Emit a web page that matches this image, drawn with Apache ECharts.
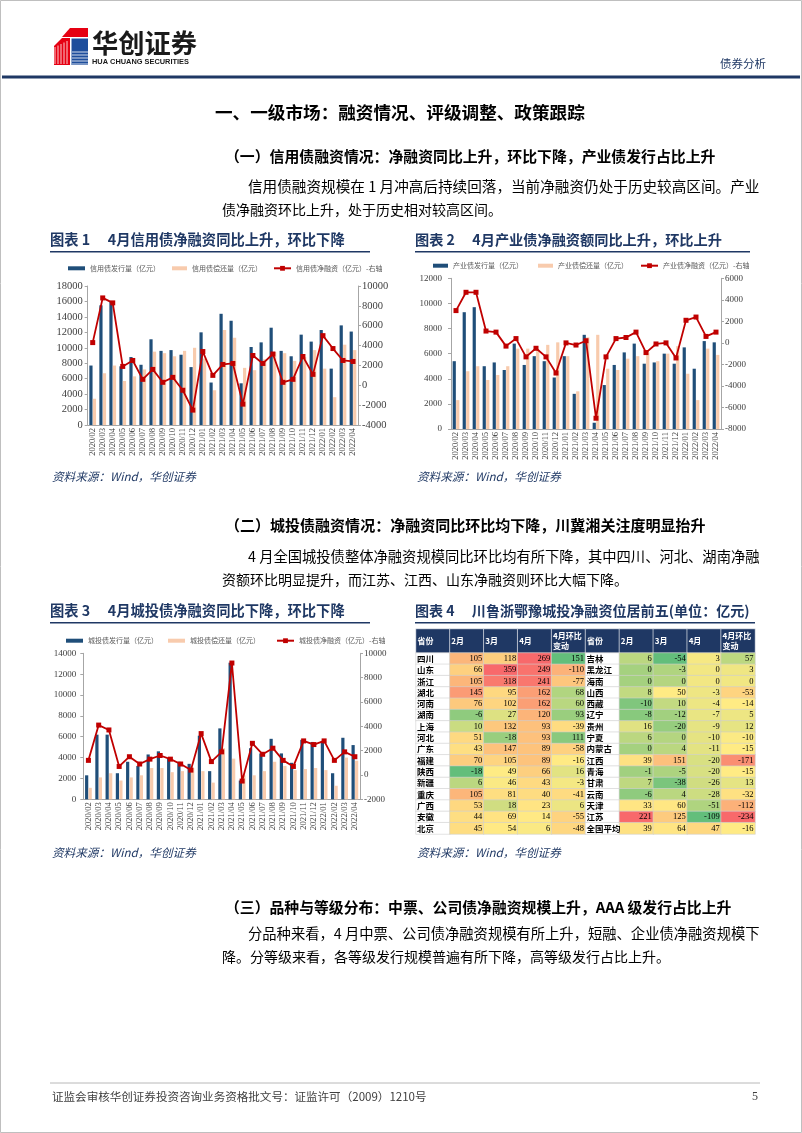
<!DOCTYPE html>
<html><head><meta charset="utf-8">
<script src="https://cdn.jsdelivr.net/npm/echarts@6/dist/echarts.min.js"></script>
<style>html,body{margin:0;padding:0;background:#fff}#c{width:802px;height:1133px}</style>
</head><body><div id="c"></div>
<script>
// ---------- data ----------
const months = ['2020/02','2020/03','2020/04','2020/05','2020/06','2020/07','2020/08','2020/09','2020/10','2020/11','2020/12',
  '2021/01','2021/02','2021/03','2021/04','2021/05','2021/06','2021/07','2021/08','2021/09','2021/10','2021/11','2021/12',
  '2022/01','2022/02','2022/03','2022/04'];

const creditIssue = [7700,15500,16000,7600,8800,7800,11100,9600,9700,9100,7500, 12000,5500,14400,13500,5400,10100,10700,12600,9600,8900,11700,10800, 12300,7300,12900,12100];
const creditRepay = [3400,6700,7700,5700,6300,7200,9500,9300,8900,9600,10000, 8600,4500,12300,11300,7400,7100,8500,9450,9300,8300,8800,9700, 7300,3600,10400,9700];
const creditNet   = [4300,8800,8300,1900,2500,600,1600,300,800,-500,-2500, 3400,1000,2100,2200,-1900,3000,2200,3150,300,600,2900,1100, 5000,3700,2500,2400];

const indIssue = [5400,9300,9700,5000,5300,4700,6800,5100,5800,5400,4100, 5800,2800,7500,500,3500,5100,6100,6800,5200,5300,6000,5200, 6500,4800,7000,6900];
const indRepay = [2300,4600,5000,3900,4300,5000,6400,6400,6300,6700,6900, 5800,3000,7300,7500,4800,4700,5600,5800,6100,5400,6000,6600, 4400,2300,6400,5900];
const indNet   = [3000,4700,4700,1100,1000,-300,400,-1300,-500,-1300,-2800, 0,-200,200,-7000,-1300,400,500,1000,-900,-100,0,-1400, 2100,2400,600,1000];

const cityIssue = [2300,6200,6200,2500,3600,3200,4300,4600,3900,3600,3400, 6100,2700,6800,13100,1800,4900,4400,5800,4400,3500,5700,5500, 5600,2500,5900,5200];
const cityRepay = [1100,2100,2500,1800,2100,2300,3000,3000,2600,2700,3000, 2700,1600,4900,3900,2300,2300,2700,3600,3200,2800,2900,3000, 2800,1300,4000,3700];
const cityNet   = [1200,4100,3700,700,1500,900,1300,1600,1300,900,400, 3400,1100,1900,9200,-500,2600,1700,2200,1200,700,2800,2500, 2800,1200,1900,1500];

const tableCols = ['省份','2月','3月','4月','4月环比\n变动','省份','2月','3月','4月','4月环比\n变动'];
const leftProv = ['四川','山东','浙江','湖北','河南','湖南','上海','河北','广东','福建','陕西','新疆','重庆','广西','安徽','北京'];
const leftFeb  = [105,66,105,145,76,-6,10,51,43,70,-18,6,105,53,44,45];
const leftMar  = [118,359,318,95,102,27,132,-18,147,105,49,46,81,18,69,54];
const leftApr  = [269,249,241,162,162,120,93,93,89,89,66,43,40,23,14,6];
const leftChg  = [151,-110,-77,68,60,93,-39,111,-58,-16,16,-3,-41,6,-55,-48];
const rightProv = ['吉林','黑龙江','海南','山西','西藏','辽宁','贵州','宁夏','内蒙古','江西','青海','甘肃','云南','天津','江苏','全国平均'];
const rightFeb  = [6,0,0,8,-10,-8,16,6,0,39,-1,7,-6,33,221,39];
const rightMar  = [-54,-3,0,50,10,-12,-20,0,4,151,-5,-38,4,60,125,64];
const rightApr  = [3,0,0,-3,-4,-7,-9,-10,-11,-20,-20,-26,-28,-51,-109,47];
const rightChg  = [57,3,0,-53,-14,5,12,-10,-15,-171,-15,13,-32,-112,-234,-16];

// ---------- helpers ----------
const CJK = '"Noto Sans CJK SC"';
const SERIF = '"Liberation Serif"';
const NAVY = '#1F3864';
const BLUE = '#1F4E79', PEACH = '#F8CBAD', RED = '#C00000';
const mctx = document.createElement('canvas').getContext('2d');
function fitSize(text, width, weight) {
  mctx.font = (weight || 'normal') + ' 100px ' + CJK;
  return 100 * width / mctx.measureText(text).width;
}
function txt(text, x, y, o) {
  o = o || {};
  let fs = o.fs || 14;
  if (o.w) fs = fitSize(text, o.w, o.bold ? 'bold' : 'normal');
  return {type:'text', silent:true, z:10, style:{text, x, y, fontSize:fs, fontFamily:o.family || CJK,
    fontWeight:o.bold ? 'bold' : 'normal', fontStyle:o.italic ? 'italic' : 'normal',
    fill:o.color || '#000', textAlign:o.align || 'left', textVerticalAlign:'middle'}};
}
function rect(x, y, w, h, fill) { return {type:'rect', silent:true, shape:{x, y, width:w, height:h}, style:{fill}}; }

function catAxis(gi, fs) {
  return {type:'category', gridIndex:gi, data:months, boundaryGap:true,
    axisLine:{show:true, onZero:false, lineStyle:{color:'#A6A6A6', width:1}}, axisTick:{show:false},
    axisLabel:{interval:0, rotate:90, fontFamily:SERIF, fontSize:fs, color:'#404040', margin:3},
    splitLine:{show:false}};
}
function valAxis(gi, pos, min, max, fs, margin) {
  return {type:'value', gridIndex:gi, position:pos, min, max, interval:2000,
    axisLine:{show:true, lineStyle:{color:'#A6A6A6'}}, axisTick:{show:true, length:3, lineStyle:{color:'#A6A6A6'}},
    axisLabel:{fontFamily:SERIF, fontSize:fs, color:'#404040', margin, formatter:v => String(v)},
    splitLine:{show:false}};
}
function barS(name, data, xi, yi, color) {
  return {type:'bar', name, data, xAxisIndex:xi, yAxisIndex:yi, barWidth:3.2, barGap:'10%',
    itemStyle:{color}, emphasis:{disabled:true}, animation:false};
}
function lineS(name, data, xi, yi) {
  return {type:'line', name, data, xAxisIndex:xi, yAxisIndex:yi, symbol:'rect', symbolSize:5,
    lineStyle:{color:RED, width:1.8}, itemStyle:{color:RED}, z:5, emphasis:{disabled:true}, animation:false};
}
function leg(name, left, cy, iw, ih, icon) {
  const l = {data:[name], left, top:cy - 5, padding:0, itemWidth:iw, itemHeight:ih, itemGap:0, selectedMode:false,
    textStyle:{fontSize:7, fontFamily:CJK, color:'#595959', lineHeight:10}};
  if (icon) l.icon = icon;
  return l;
}

// conditional color scale (Excel 3-color: green - yellow - red)
const C_RED = [248,105,107], C_YEL = [255,235,132], C_GRN = [99,190,123];
function mix(a, b, t) { return 'rgb(' + a.map((v, i) => Math.round(v + (b[i] - v) * t)).join(',') + ')'; }
function makeScale(vals, invert) {
  const s = vals.slice().sort((a, b) => a - b);
  const n = s.length, min = s[0], max = s[n - 1];
  const mid = n % 2 ? s[(n - 1) / 2] : (s[n / 2 - 1] + s[n / 2]) / 2;
  const lo = invert ? C_RED : C_GRN, hi = invert ? C_GRN : C_RED;
  return v => v <= mid ? mix(lo, C_YEL, mid === min ? 1 : (v - min) / (mid - min))
                       : mix(C_YEL, hi, (v - mid) / (max - mid));
}
const leftCols = [leftFeb, leftMar, leftApr, leftChg];
const rightCols = [rightFeb, rightMar, rightApr, rightChg];
const scales = leftCols.map((c, i) => makeScale(c.concat(rightCols[i]), i === 3));

const cellData = [];
function addHalf(prov, cols, c0) {
  prov.forEach((p, r) => {
    cellData.push({name:p, value:[c0, r, 0], itemStyle:{color:'#fff'},
      label:{position:'insideLeft', distance:1.5, fontFamily:CJK, fontWeight:'bold', fontSize:8.5, color:'#000'}});
    cols.forEach((col, ci) => {
      const v = col[r];
      cellData.push({name:String(v), value:[c0 + 1 + ci, r, v], itemStyle:{color:scales[ci](v)}});
    });
  });
}
addHalf(leftProv, leftCols, 0);
addHalf(rightProv, rightCols, 5);
const headData = tableCols.map((h, i) => ({name:h, value:[i, 0, 0]}));

// ---------- page graphics ----------
const HEAD = '#000';
const g = [];
g.push({type:'rect', silent:true, shape:{x:0.5, y:0.5, width:801, height:1132}, style:{fill:'none', stroke:'#BFBFBF', lineWidth:1}});
// logo
g.push({type:'polygon', silent:true, shape:{points:[[62,37],[70,28],[88,28],[88,37]]}, style:{fill:'#E60012'}});
g.push({type:'polygon', silent:true, shape:{points:[[54,46],[62,38],[70,38],[70,65],[54,65]]}, style:{fill:'#E60012'}});
g.push({type:'rect', silent:true, shape:{x:71.5, y:38.5, width:16.5, height:26.5}, style:{fill:'#1E4E9C'}});
for (let i = 0; i < 5; i++) {
  g.push({type:'line', silent:true, shape:{x1:55 + i * 3, y1:64, x2:55 + i * 3, y2:47 - i * 1.5}, style:{stroke:'#fff', lineWidth:0.8}});
  g.push({type:'line', silent:true, shape:{x1:72, y1:52 + i * 3, x2:88, y2:52 + i * 3}, style:{stroke:'#fff', lineWidth:0.8}});
}
g.push(txt('华创证券', 92, 43, {w:105, bold:true, color:'#1a1a1a'}));
g.push(txt('HUA CHUANG SECURITIES', 92, 62, {fs:7.4, bold:true, family:'"Liberation Sans"', color:'#1a1a1a'}));
g.push(txt('债券分析', 720, 64, {fs:11.5, color:NAVY}));
g.push(rect(2, 75.5, 798, 3, NAVY));

// headings and paragraphs
g.push(txt('一、一级市场：融资情况、评级调整、政策跟踪', 215, 112, {w:370, bold:true, color:HEAD}));
g.push(txt('（一）信用债融资情况：净融资同比上升，环比下降，产业债发行占比上升', 225, 156, {w:491, bold:true, color:HEAD}));
g.push(txt('信用债融资规模在 1 月冲高后持续回落，当前净融资仍处于历史较高区间。产业', 248, 186, {w:512}));
g.push(txt('债净融资环比上升，处于历史相对较高区间。', 222, 210, {fs:14}));

g.push(txt('图表 1\u3000 4月信用债净融资同比上升，环比下降', 50, 240, {w:295, bold:true, color:NAVY}));
g.push(txt('图表 2\u3000 4月产业债净融资额同比上升，环比上升', 415, 240, {w:307, bold:true, color:NAVY}));
g.push(rect(50, 251, 320, 1.6, NAVY));
g.push(rect(415, 251, 335, 1.6, NAVY));
g.push(txt('资料来源：Wind，华创证券', 52, 477, {w:144, italic:true, color:NAVY}));
g.push(txt('资料来源：Wind，华创证券', 417, 477, {w:144, italic:true, color:NAVY}));

g.push(txt('（二）城投债融资情况：净融资同比环比均下降，川冀湘关注度明显抬升', 225, 525, {w:481, bold:true, color:HEAD}));
g.push(txt('4 月全国城投债整体净融资规模同比环比均有所下降，其中四川、河北、湖南净融', 248, 557, {w:512}));
g.push(txt('资额环比明显提升，而江苏、江西、山东净融资则环比大幅下降。', 222, 580, {fs:14}));

g.push(txt('图表 3\u3000 4月城投债净融资同比下降，环比下降', 50, 611, {w:295, bold:true, color:NAVY}));
g.push(txt('图表 4\u3000 川鲁浙鄂豫城投净融资位居前五(单位：亿元)', 415, 611, {w:335, bold:true, color:NAVY}));
g.push(rect(50, 622, 320, 1.6, NAVY));
g.push(rect(415, 622, 340, 1.6, NAVY));
g.push(txt('资料来源：Wind，华创证券', 52, 853, {w:144, italic:true, color:NAVY}));
g.push(txt('资料来源：Wind，华创证券', 417, 853, {w:144, italic:true, color:NAVY}));

g.push(txt('（三）品种与等级分布：中票、公司债净融资规模上升，AAA 级发行占比上升', 225, 907, {w:507, bold:true, color:HEAD}));
g.push(txt('分品种来看，4 月中票、公司债净融资规模有所上升，短融、企业债净融资规模下', 248, 934, {w:512}));
g.push(txt('降。分等级来看，各等级发行规模普遍有所下降，高等级发行占比上升。', 222, 957, {fs:14}));

g.push({type:'line', silent:true, shape:{x1:50, y1:1083, x2:760, y2:1083}, style:{stroke:'#A6A6A6', lineWidth:0.8}});
g.push(txt('证监会审核华创证券投资咨询业务资格批文号：证监许可（2009）1210号', 52, 1097, {w:375, color:'#404040'}));
g.push(txt('5', 752, 1097, {fs:12, family:SERIF, color:'#404040'}));

// ---------- option ----------
const option = {
  animation:false,
  backgroundColor:'#fff',
  grid:[
    {left:87.7, top:286, width:270.3, height:139, outerBoundsMode:'none'},
    {left:451, top:278.3, width:270, height:150.7, outerBoundsMode:'none'},
    {left:83.3, top:653.3, width:276.7, height:146, outerBoundsMode:'none'},
    {left:416, top:629, width:339, height:24, outerBoundsMode:'none'},
    {left:416, top:653, width:339, height:181, outerBoundsMode:'none'}
  ],
  xAxis:[
    catAxis(0, 8.5), catAxis(1, 8.5), catAxis(2, 8.5),
    {type:'category', gridIndex:3, data:tableCols, show:false},
    {type:'category', gridIndex:4, data:tableCols, show:false}
  ],
  yAxis:[
    valAxis(0, 'left', 0, 18000, 10.5, 5), valAxis(0, 'right', -4000, 10000, 10.5, 4),
    valAxis(1, 'left', 0, 12000, 9, 9), valAxis(1, 'right', -8000, 6000, 9, 4),
    valAxis(2, 'left', 0, 14000, 9, 7), valAxis(2, 'right', -2000, 10000, 9, 4),
    {type:'category', gridIndex:3, data:['h'], show:false},
    {type:'category', gridIndex:4, data:leftProv, inverse:true, show:false}
  ],
  legend:[
    leg('信用债发行量（亿元）', 68, 268.3, 17, 4, 'rect'),
    leg('信用债偿还量（亿元）', 172, 268.3, 15, 4, 'rect'),
    leg('信用债净融资（亿元）-右轴', 273, 268.3, 17, 6),
    leg('产业债发行量（亿元）', 433, 265.7, 15, 4, 'rect'),
    leg('产业债偿还量（亿元）', 538, 265.7, 15, 4, 'rect'),
    leg('产业债净融资（亿元）-右轴', 640, 265.7, 17, 6),
    leg('城投债发行量（亿元）', 66, 640.7, 17, 4, 'rect'),
    leg('城投债偿还量（亿元）', 168, 640.7, 17, 4, 'rect'),
    leg('城投债净融资（亿元）-右轴', 276, 640.7, 17, 6)
  ],
  series:[
    barS('信用债发行量（亿元）', creditIssue, 0, 0, BLUE),
    barS('信用债偿还量（亿元）', creditRepay, 0, 0, PEACH),
    lineS('信用债净融资（亿元）-右轴', creditNet, 0, 1),
    barS('产业债发行量（亿元）', indIssue, 1, 2, BLUE),
    barS('产业债偿还量（亿元）', indRepay, 1, 2, PEACH),
    lineS('产业债净融资（亿元）-右轴', indNet, 1, 3),
    barS('城投债发行量（亿元）', cityIssue, 2, 4, BLUE),
    barS('城投债偿还量（亿元）', cityRepay, 2, 4, PEACH),
    lineS('城投债净融资（亿元）-右轴', cityNet, 2, 5),
    {type:'heatmap', xAxisIndex:3, yAxisIndex:6, data:headData, silent:true, emphasis:{disabled:true},
      itemStyle:{color:NAVY, borderColor:'#fff', borderWidth:0.6},
      label:{show:true, formatter:'{b}', position:'insideLeft', distance:2, color:'#fff', fontWeight:'bold',
        fontFamily:CJK, fontSize:8, lineHeight:10}},
    {type:'heatmap', xAxisIndex:4, yAxisIndex:7, data:cellData, silent:true, emphasis:{disabled:true},
      itemStyle:{borderColor:'#D0D0D0', borderWidth:0.6},
      label:{show:true, formatter:'{b}', position:'insideRight', distance:2, color:'#000',
        fontFamily:SERIF, fontSize:8.5}}
  ],
  graphic:{elements:g}
};
const chart = echarts.init(document.getElementById('c'), null, {renderer:'canvas', width:802, height:1133});
chart.setOption(option);
</script>
</body></html>
